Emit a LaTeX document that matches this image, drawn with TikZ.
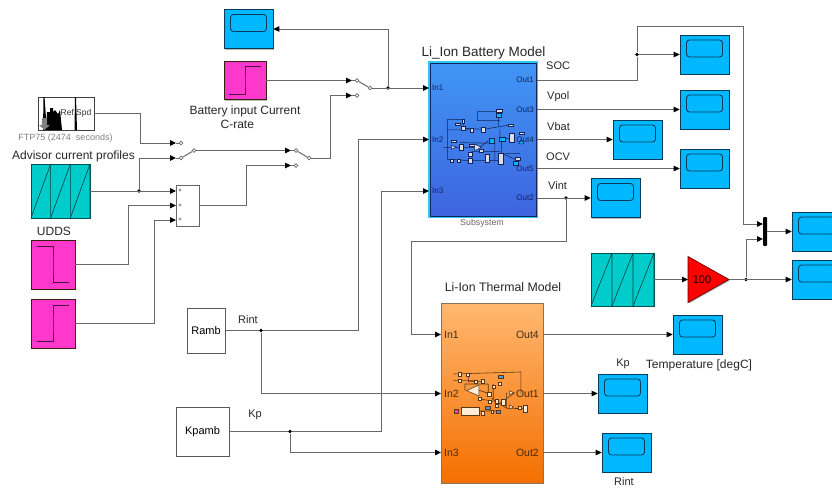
\documentclass[tikz,border=0pt]{standalone}
\usepackage{xcolor}
\usepackage{fontspec}
\setmainfont{Liberation Sans}
\usetikzlibrary{positioning, calc, arrows.meta, shadows}
\definecolor{scopeblue}{RGB}{0, 184, 255}
\definecolor{scopeline}{RGB}{10, 60, 90}
\definecolor{stepmagenta}{RGB}{255, 56, 204}
\definecolor{sawteal}{RGB}{0, 204, 204}
\definecolor{wiregray}{RGB}{105, 105, 105}
\definecolor{batnavy}{RGB}{16, 36, 90}
\definecolor{batglow}{RGB}{40, 200, 250}
\definecolor{battop}{RGB}{64, 150, 245}
\definecolor{batbottom}{RGB}{62, 100, 222}
\definecolor{thermtop}{RGB}{255, 184, 112}
\definecolor{thermbottom}{RGB}{245, 111, 0}
\definecolor{thermbrown}{RGB}{90, 55, 20}
\newcommand{\switchblk}[3]{%
  \node[swdot] (#1A) at (#2,#3) {};
  \node[swdot] (#1B) at (#2,{#3+15}) {};
  \node[swdot] (#1O) at ({#2+13},{#3+7.5}) {};
  \coordinate (#1Ain) at ({#2-5},#3);
  \coordinate (#1Bin) at ({#2-5},{#3+15});
  \draw[wire] (#1Ain) -- (#1A);
  \draw[wire] (#1Bin) -- (#1B);
}

\begin{document}
\begin{tikzpicture}[
  x=1pt, y=-1pt,
  wire/.style={line width=1pt, draw=wiregray},
  sig/.style={wire, -{Triangle[length=6pt,width=5.5pt,black]}},
  junc/.style={circle, fill=black, minimum size=3.8pt, inner sep=0},
  swdot/.style={circle, draw=wiregray, fill=white, line width=0.7pt, minimum size=3.8pt, inner sep=0},
  blockshadow/.style={drop shadow={shadow xshift=1pt, shadow yshift=-1pt, fill=black!55}},
  scopeblk/.style={rectangle, draw=scopeline, line width=0.7pt, fill=scopeblue, minimum width=49pt, minimum height=39pt, inner sep=0, blockshadow,
    path picture={\draw[scopeline, line width=0.9pt, rounded corners=3pt] ($(path picture bounding box.north west)+(6.5,5)$) rectangle +(36,17);}},
  stepup/.style={rectangle, draw=thermbrown!60!black, line width=0.7pt, fill=stepmagenta, inner sep=0, blockshadow,
    path picture={\draw[black!70!stepmagenta, line width=0.7pt] ($(path picture bounding box.south west)!.13!(path picture bounding box.north east)$) -| (path picture bounding box.center) |- ($(path picture bounding box.south west)!.87!(path picture bounding box.north east)$);}},
  stepdown/.style={rectangle, draw=thermbrown!60!black, line width=0.7pt, fill=stepmagenta, inner sep=0, blockshadow,
    path picture={\draw[black!70!stepmagenta, line width=0.7pt] ($(path picture bounding box.north west)!.13!(path picture bounding box.south east)$) -| (path picture bounding box.center) |- ($(path picture bounding box.north west)!.87!(path picture bounding box.south east)$);}},
  sawblk/.style={rectangle, draw=black!60!sawteal, line width=0.7pt, fill=sawteal, inner sep=0, blockshadow,
    path picture={
      \coordinate (sw) at (path picture bounding box.south west);
      \coordinate (ne) at (path picture bounding box.north east);
      \foreach \k in {0,1,2} {
        \draw[black!70!sawteal, line width=0.6pt] ($(sw)!{\k/3}!(sw-|ne)$) -- ($(ne-|sw)!{(\k+1)/3}!(ne)$) -- ($(sw)!{(\k+1)/3}!(sw-|ne)$);
      }}},
  plainblk/.style={rectangle, draw=black!65, line width=0.7pt, fill=white, inner sep=0, blockshadow, font=\fontsize{11}{12}\selectfont},
  lbl/.style={font=\fontsize{12}{13.5}\selectfont, text=black!85, inner sep=0},
  lblsmall/.style={font=\fontsize{11}{12}\selectfont, text=black!85, inner sep=0},
  portbat/.style={font=\fontsize{8}{8.5}\selectfont, text=batnavy, inner sep=0},
  porttherm/.style={font=\fontsize{10.5}{11}\selectfont, text=thermbrown!80!black, inner sep=0},
  minibat/.style={draw=batnavy, line width=0.5pt, fill=blue!10!gray!25},
  minibatcyan/.style={draw=batnavy, line width=0.5pt, fill=scopeblue},
  minitherm/.style={draw=thermbrown, line width=0.55pt, fill=orange!15},
]
\clip (0,0) rectangle (832,488);

% ==================== sources ====================
\node[rectangle, draw=black!75, line width=0.9pt, fill=white, minimum width=56pt, minimum height=33pt, inner sep=0, blockshadow] (ftp) at (66,113.5) {};
\fill[black] (43,130) -- (43.5,97) -- (44.5,97) -- (46,118) -- (47,130) -- cycle;
\fill[black] (46,130) -- (47,112) -- (50,112) -- (50,108) -- (53,108) -- (53,112) -- (55,110) -- (58,114) -- (60,110) -- (62,130) -- cycle;
\fill[black] (74.5,130) -- (75,97) -- (76,97) -- (77,130) -- cycle;
\fill[gray] (42,118) -- (47,118) -- (47,125) -- (50,125) -- (44.5,130) -- (39,125) -- (42,125) -- cycle;
\node[font=\fontsize{8.5}{9}\selectfont, text=black!80, inner sep=0] (ftpText) at (76,113.5) {Ref Spd};
\node[font=\fontsize{9}{10}\selectfont, text=black!50, inner sep=0] (ftpLabel) at (65.5,138) {FTP75 (2474 \ seconds)};
\node[lbl] (advisorLabel) at (73.5,156.5) {Advisor current profiles};
\node[sawblk, minimum width=59pt, minimum height=54pt] (advisor) at (60.5,191) {};
\node[lbl] (uddsLabel) at (54,231) {UDDS};
\node[stepdown, minimum width=44pt, minimum height=49pt] (stepDown) at (53,264.5) {};
\node[stepup, minimum width=44pt, minimum height=49pt] (stepUp) at (53,323.5) {};
\node[stepup, minimum width=42pt, minimum height=38pt] (stepBat) at (245,80.5) {};
\node[lbl, align=left] (stepBatLabel) at (245,117) {Battery input Current\\\hspace*{31pt}C-rate};
\node[scopeblk] (scopeTop) at (248.5,29) {};
\node[plainblk, minimum width=38pt, minimum height=45pt] (ramb) at (206,330.5) {Ramb};
\node[plainblk, minimum width=53pt, minimum height=49pt] (kpamb) at (202.5,431.5) {Kpamb};
\node[lblsmall] (rintLabel) at (248,320) {Rint};
\node[lblsmall] (kpLabel) at (255,415) {Kp};

% ==================== sum and switches ====================
\node[rectangle, draw=black!60, line width=0.7pt, fill=white, minimum width=23pt, minimum height=41pt, inner sep=0, blockshadow] (sum) at (187.5,205.5) {};
\foreach \py/\pname in {191/sumPlusA, 205.5/sumPlusB, 220/sumPlusC} {
  \node[font=\fontsize{6}{6}\selectfont, inner sep=0] (\pname) at (180,\py) {+};
}
\coordinate (sumInA) at (176,191);
\coordinate (sumInB) at (176,205.5);
\coordinate (sumInC) at (176,220);
\switchblk{swTop}{357}{80.5}
\switchblk{swTwo}{181}{143}
\switchblk{swThree}{296}{150.5}
\draw[wire] (swTopA) -- (swTopO);
\draw[wire] (swTwoB) -- (swTwoO);
\draw[wire] (swThreeA) -- (swThreeO);

% ==================== battery model ====================
\node[rectangle, fill=batglow, minimum width=110pt, minimum height=157pt, inner sep=0] (batFrame) at (483,139.5) {};
\node[rectangle, draw=batnavy, line width=1pt, top color=battop, bottom color=batbottom, minimum width=106pt, minimum height=153pt, inner sep=0] (bat) at (483,139.5) {};
\node[lbl, font=\fontsize{13.5}{14}\selectfont] (batLabel) at (483.5,53) {Li\_Ion Battery Model};
\node[font=\fontsize{8.8}{9}\selectfont, text=black!60, inner sep=0] (batName) at (482,223) {Subsystem};
\begin{scope}[shift={(440,100)}, x=0.333pt, y=-0.333pt]
  \draw[batnavy, line width=0.55pt]
    (112,35) -- (175,35) (112,35) -- (112,62) -- (180,62) (175,50) -- (175,78)
    (22,58) -- (70,58) -- (70,85) -- (130,88) -- (210,75)
    (22,58) -- (22,178) -- (90,182) -- (180,182)
    (22,90) -- (95,90) (180,88) -- (180,118) -- (215,115)
    (60,128) -- (165,130) -- (165,182) (10,142) -- (120,142) -- (145,122)
    (95,155) -- (180,155) (185,118) -- (185,160) -- (225,178) (195,160) -- (240,160);
  \foreach \bx/\by/\bw/\bh in {70/63/8/12, 53/73/14/8, 70/85/10/14, 95/90/10/12, 130/90/12/14, 42/123/16/7, 64/142/10/16, 98/136/20/5, 92/162/12/12, 92/182/12/14, 57/182/9/8, 35/182/9/8, 125/152/12/10, 142/175/14/26, 182/176/14/34, 215/113/14/26, 212/75/16/7, 178/32/16/8, 245/100/14/6, 232/176/15/7} {
    \draw[minibat] ({\bx-\bw/2},{\by-\bh/2}) rectangle ++(\bw,\bh);
  }
  \foreach \bx/\by/\bw/\bh in {177/46/16/12, 155/122/16/13, 187/118/16/12, 226/189/15/13} {
    \draw[minibatcyan] ({\bx-\bw/2},{\by-\bh/2}) rectangle ++(\bw,\bh);
  }
  \draw[minibat] (34,136) -- (48,142) -- (34,148) -- cycle;
  \draw[minibat] (104,132) -- (124,142) -- (104,152) -- cycle;
  \draw[minibatcyan] (236,132) -- (244,118) -- (252,132) -- cycle;
\end{scope}
\node[portbat, anchor=west] (batTextIn1) at (432,88) {In1};
\node[portbat, anchor=west] (batTextIn2) at (432,139.5) {In2};
\node[portbat, anchor=west] (batTextIn3) at (432,191) {In3};
\node[portbat, anchor=east] (batTextOut1) at (534,80) {Out1};
\node[portbat, anchor=east] (batTextOut3) at (534,109.5) {Out3};
\node[portbat, anchor=east] (batTextOut4) at (534,139.5) {Out4};
\node[portbat, anchor=east] (batTextOut5) at (534,168.5) {Out5};
\node[portbat, anchor=east] (batTextOut2) at (534,198) {Out2};
\coordinate (batIn1) at (429,88);
\coordinate (batIn2) at (429,139.5);
\coordinate (batIn3) at (429,191);
\coordinate (batOut1) at (537,80);
\coordinate (batOut3) at (537,109.5);
\coordinate (batOut4) at (537,139.5);
\coordinate (batOut5) at (537,168.5);
\coordinate (batOut2) at (537,198);
\node[lblsmall, anchor=west] (socLabel) at (546,66) {SOC};
\node[lblsmall, anchor=west] (vpolLabel) at (547,97) {Vpol};
\node[lblsmall, anchor=west] (vbatLabel) at (547,127) {Vbat};
\node[lblsmall, anchor=west] (ocvLabel) at (546,157) {OCV};
\node[lblsmall, anchor=west] (vintLabel) at (548,186) {Vint};

% ==================== thermal model ====================
\node[rectangle, draw=thermbrown!70, line width=0.7pt, top color=thermtop, bottom color=thermbottom, minimum width=102pt, minimum height=180pt, inner sep=0, blockshadow] (therm) at (492,393) {};
\node[lblsmall, font=\fontsize{12.3}{13}\selectfont] (thermLabel) at (503,287) {Li-Ion Thermal Model};
\begin{scope}[shift={(445,360)}, x=0.333pt, y=-0.333pt]
  \draw[thermbrown, line width=0.6pt]
    (25,42) -- (228,36) -- (228,100) (25,62) -- (95,62) (70,42) -- (70,65) -- (110,65)
    (60,72) -- (130,72) -- (130,100) (60,72) -- (60,92) (100,90) -- (130,100)
    (145,72) -- (145,120) (140,115) -- (185,145) (185,98) -- (185,145) -- (240,146)
    (110,118) -- (155,125) (70,153) -- (160,153) (165,130) -- (210,98);
  \foreach \bx/\by/\bw/\bh in {45/42/10/12, 45/62/10/10, 68/45/8/8, 92/65/9/9, 112/64/9/12, 145/80/9/10, 163/72/9/9, 132/102/12/12, 105/117/9/10, 135/125/10/8, 155/124/9/14, 175/128/10/18, 155/138/9/9, 112/160/9/10, 142/155/8/8, 224/142/10/9, 240/146/12/20} {
    \draw[minitherm] ({\bx-\bw/2},{\by-\bh/2}) rectangle ++(\bw,\bh);
  }
  \draw[minitherm] (50,143) rectangle (102,165);
  \foreach \bx/\by in {168/50, 128/143, 160/155} {
    \draw[draw=thermbrown, fill=cyan!60!blue!70, line width=0.5pt] ({\bx-7},{\by-5}) rectangle ++(14,10);
  }
  \draw[draw=thermbrown, fill=stepmagenta, line width=0.5pt] (27,147) rectangle ++(14,14);
  \draw[minitherm] (65,92) -- (102,75) -- (102,108) -- cycle;
  \draw[minitherm] (194,92) -- (206,98) -- (194,104) -- cycle;
  \draw[minitherm] (194,135) -- (206,141) -- (194,147) -- cycle;
\end{scope}
\node[porttherm, anchor=west] (thermTextIn1) at (444,334.5) {In1};
\node[porttherm, anchor=west] (thermTextIn2) at (444,393.5) {In2};
\node[porttherm, anchor=west] (thermTextIn3) at (444,452.5) {In3};
\node[porttherm, anchor=east] (thermTextOut4) at (539,334.5) {Out4};
\node[porttherm, anchor=east] (thermTextOut1) at (539,393.5) {Out1};
\node[porttherm, anchor=east] (thermTextOut2) at (539,452.5) {Out2};
\coordinate (thermIn1) at (441,334.5);
\coordinate (thermIn2) at (441,393.5);
\coordinate (thermIn3) at (441,452.5);
\coordinate (thermOut4) at (543,334.5);
\coordinate (thermOut1) at (543,393.5);
\coordinate (thermOut2) at (543,452.5);

% ==================== scopes ====================
\node[scopeblk] (scopeSoc) at (704.5,54.5) {};
\node[scopeblk] (scopeVpol) at (704.5,109.5) {};
\node[scopeblk] (scopeVbat) at (637.5,139.5) {};
\node[scopeblk] (scopeOcv) at (704.5,168.5) {};
\node[scopeblk] (scopeVint) at (615.5,198) {};
\node[scopeblk] (scopeMux) at (816.5,231.5) {};
\node[scopeblk] (scopeGain) at (816.5,279.5) {};
\node[scopeblk] (scopeTemp) at (697.5,334.5) {};
\node[scopeblk] (scopeKp) at (622.5,393.5) {};
\node[scopeblk] (scopeRint) at (626.5,452.5) {};
\node[lblsmall, font=\fontsize{12}{13}\selectfont] (tempLabel) at (699,365) {Temperature [degC]};
\node[lblsmall] (scopeKpLabel) at (623,364) {Kp};
\node[lblsmall] (scopeRintLabel) at (624,481.5) {Rint};

% ==================== gain and mux ====================
\node[sawblk, minimum width=63pt, minimum height=53pt] (sawGain) at (622.5,279.5) {};
\draw[draw=black!60!red, line width=0.7pt, fill=red, blockshadow] (688,256.5) -- (729,279.5) -- (688,302.5) -- cycle;
\node[font=\fontsize{11}{12}\selectfont, inner sep=0] (gainText) at (702,279.5) {100};
\coordinate (gainIn) at (688,279.5);
\coordinate (gainOut) at (729,279.5);
\node[rectangle, fill=black, rounded corners=1pt, minimum width=4pt, minimum height=29pt, inner sep=0] (muxbar) at (765,231.5) {};
\coordinate (muxInA) at (763,224);
\coordinate (muxInB) at (763,239);

% ==================== junctions ====================
\node[junc] (juncAdv) at (139,191) {};
\node[junc] (juncTop) at (388,88) {};
\node[junc] (juncRint) at (261,330.5) {};
\node[junc] (juncKp) at (290,431.5) {};
\node[junc] (juncSoc) at (637,54.5) {};
\node[junc] (juncVint) at (566,198) {};
\node[junc] (juncGain) at (746,279.5) {};

% ==================== connectors ====================
\draw[sig] (ftp.east) -- ++(46,0) |- (swTwoAin);
\draw[sig] (juncAdv) |- (swTwoBin);
\draw[sig] (advisor.east) -- (sumInA);
\draw[sig] (stepDown.east) -- ++(53,0) |- (sumInB);
\draw[sig] (stepUp.east) -- ++(79.5,0) |- (sumInC);
\draw[sig] (sum.east) -- ++(47,0) |- (swThreeBin);
\draw[sig] (swTwoO) -- (swThreeAin);
\draw[sig] (swThreeO) -- ++(21,0) |- (swTopBin);
\draw[sig] (stepBat.east) -- (swTopAin);
\draw[sig] (swTopO) -- (batIn1);
\draw[sig] (juncTop) |- (scopeTop.east);
\draw[sig] (ramb.east) -- (juncRint) -- ++(97,0) |- (batIn2);
\draw[sig] (juncRint) |- (thermIn2);
\draw[sig] (kpamb.east) -- (juncKp) -- ++(91,0) |- (batIn3);
\draw[sig] (juncKp) |- (thermIn3);
\draw[wire] (batOut1) -| (juncSoc);
\draw[sig] (juncSoc) -- (scopeSoc.west);
\draw[sig] (juncSoc) -- ++(0,-28.5) -- ++(106.5,0) |- (muxInA);
\draw[sig] (batOut3) -- (scopeVpol.west);
\draw[sig] (batOut4) -- (scopeVbat.west);
\draw[sig] (batOut5) -- (scopeOcv.west);
\draw[sig] (batOut2) -- (scopeVint.west);
\draw[sig] (juncVint) -- ++(0,43) -- ++(-155,0) |- (thermIn1);
\draw[sig] (thermOut4) -- (scopeTemp.west);
\draw[sig] (thermOut1) -- (scopeKp.west);
\draw[sig] (thermOut2) -- (scopeRint.west);
\draw[sig] (sawGain.east) -- (gainIn);
\draw[sig] (gainOut) -- (scopeGain.west);
\draw[sig] (juncGain) |- (muxInB);
\draw[sig] (muxbar.east) -- (scopeMux.west);

\end{tikzpicture}
\end{document}
